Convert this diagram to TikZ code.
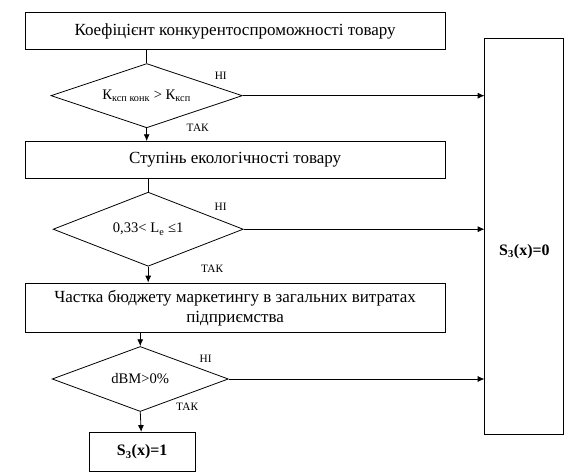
\documentclass[tikz,border=0pt]{standalone}
\usepackage{fontspec}
\setmainfont{Liberation Serif}
\usetikzlibrary{shapes.geometric,arrows.meta,positioning}

\begin{document}
\begin{tikzpicture}[
  box/.style={
    rectangle, draw, line width=0.6pt,
    minimum width=11.11cm, minimum height=1.0cm,
    align=center, font=\fontsize{12.8}{15}\selectfont},
  dec/.style={
    diamond, draw, line width=0.6pt, aspect=3, inner sep=0pt,
    align=center, font=\fontsize{11}{13}\selectfont},
  res/.style={
    rectangle, draw, line width=0.6pt,
    align=center, font=\fontsize{12}{14}\selectfont\bfseries},
  lbl/.style={font=\fontsize{8.5}{9}\selectfont, inner sep=0pt},
  arr/.style={-{Latex[length=1.8mm,width=1.6mm]}, line width=0.6pt},
  lin/.style={line width=0.6pt},
]
  \useasboundingbox (0,0) rectangle (15.21,-12.57);

  \node[box] (coef) at (6.22,-0.82)
      {Коефіцієнт конкурентоспроможності товару};
  \node[dec, minimum width=5.06cm, minimum height=1.70cm,
        below=0.34cm of coef, xshift=-2.34cm] (d1)
      {К\textsubscript{ксп конк} > К\textsubscript{ксп}};
  \node[box, minimum height=0.98cm,
        below=0.34cm of d1, xshift=2.34cm] (eco)
      {Ступінь екологічності товару};
  \node[dec, minimum width=5.03cm, minimum height=1.96cm,
        below=0.34cm of eco, xshift=-2.30cm] (d2)
      {0,33< L\textsubscript{e} ≤1};
  \node[box, minimum height=1.32cm,
        below=0.42cm of d2, xshift=2.30cm] (budget)
      {Частка бюджету маркетингу в загальних витратах\\підприємства};
  \node[dec, minimum width=4.66cm, minimum height=1.72cm,
        below=0.34cm of budget, xshift=-2.51cm] (d3)
      {dBM>0\%};
  \node[res, minimum width=2.81cm, minimum height=1.03cm,
        below=0.53cm of d3, xshift=0.05cm] (one)
      {S\textsubscript{3}(x)=1};
  \node[res, minimum width=2.09cm, minimum height=10.49cm, text height=1.1cm,
        below right=0.69cm and 1.03cm of coef.north east] (zero)
      {S\textsubscript{3}(x)=0};

  \draw[lin] (d1.north) -- (d1.north |- coef.south);
  \draw[arr] (d1.south) -- node[lbl, pos=0, xshift=1.35cm]{ТАК}
      (d1.south |- eco.north);
  \draw[arr] (d1.east) -- node[lbl, pos=0, xshift=-0.58cm, yshift=0.53cm]{НІ}
      (d1.east -| zero.west);

  \draw[lin] (d2.north) -- (d2.north |- eco.south);
  \draw[arr] (d2.south) -- node[lbl, pos=0, xshift=1.69cm, yshift=-0.05cm]{ТАК}
      (d2.south |- budget.north);
  \draw[arr] (d2.east) -- node[lbl, pos=0, xshift=-0.61cm, yshift=0.58cm]{НІ}
      (d2.east -| zero.west);

  \draw[arr] (d3.north |- budget.south) -- (d3.north);
  \draw[arr] (d3.south) -- node[lbl, pos=0, xshift=1.24cm, yshift=0.13cm]{ТАК}
      (one);
  \draw[arr] (d3.east) -- node[lbl, pos=0, xshift=-0.61cm, yshift=0.54cm]{НІ}
      (d3.east -| zero.west);
\end{tikzpicture}
\end{document}
